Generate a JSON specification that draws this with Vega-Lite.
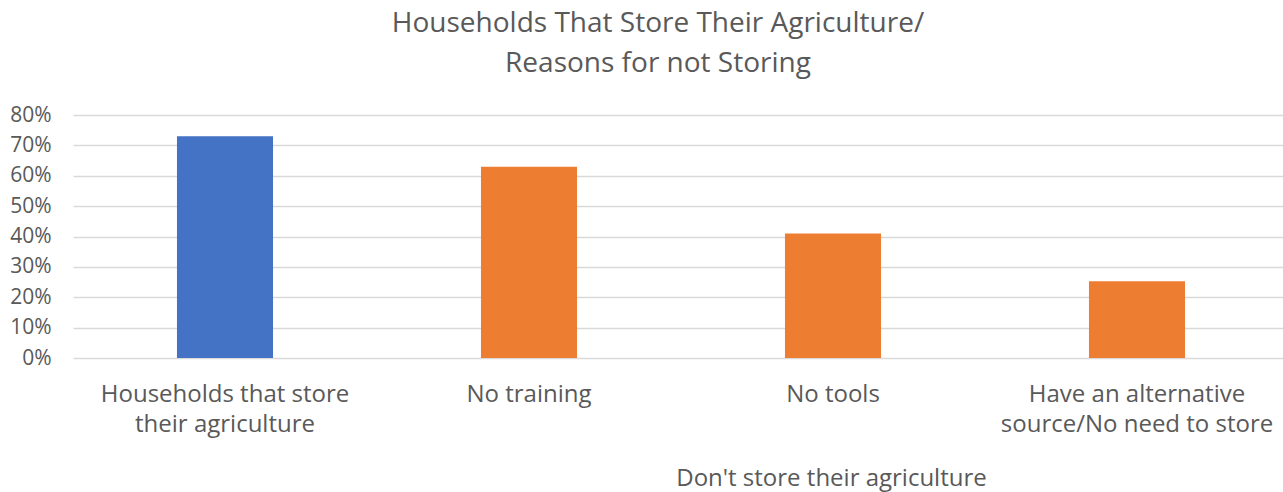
{
  "$schema": "https://vega.github.io/schema/vega-lite/v6.json",
  "width": 1208,
  "height": 243,
  "autosize": {"type": "none"},
  "padding": {"left": 73, "top": 115, "right": 2, "bottom": 134},
  "background": "white",
  "title": {
    "text": ["Households That Store Their Agriculture/", "Reasons for not Storing"],
    "font": "Open Sans",
    "fontSize": 28,
    "fontWeight": "normal",
    "color": "#595959",
    "lineHeight": 40,
    "anchor": "middle",
    "dx": -19,
    "offset": 26
  },
  "data": {
    "values": [
      {"category": "Households that store their agriculture", "label": "Households that store|their agriculture", "group": "Store", "share": 0.73},
      {"category": "No training", "label": "No training", "group": "Don't store", "share": 0.63},
      {"category": "No tools", "label": "No tools", "group": "Don't store", "share": 0.41},
      {"category": "Have an alternative source/No need to store", "label": "Have an alternative|source/No need to store", "group": "Don't store", "share": 0.253}
    ]
  },
  "mark": {"type": "bar"},
  "encoding": {
    "x": {
      "field": "label",
      "type": "nominal",
      "sort": null,
      "scale": {"paddingInner": 0.684, "paddingOuter": 0.342, "range": [0, 1216]},
      "axis": {
        "title": "Don't store their agriculture",
        "titleX": 758,
        "titleY": 120,
        "titleBaseline": "middle",
        "titleFont": "Open Sans",
        "titleFontSize": 24,
        "titleFontWeight": "normal",
        "titleColor": "#595959",
        "labelExpr": "split(datum.value, '|')",
        "labelAngle": 0,
        "labelFont": "Open Sans",
        "labelFontSize": 24,
        "labelColor": "#595959",
        "labelLineHeight": 30,
        "labelPadding": 36,
        "labelBaseline": "middle",
        "labelLimit": 500,
        "ticks": false,
        "domain": false,
        "grid": false
      }
    },
    "y": {
      "field": "share",
      "type": "quantitative",
      "scale": {"domain": [0, 0.8], "nice": false},
      "axis": {
        "title": null,
        "format": ".0%",
        "values": [0, 0.1, 0.2, 0.3, 0.4, 0.5, 0.6, 0.7, 0.8],
        "labelFont": "Open Sans",
        "labelFontSize": 21,
        "labelColor": "#595959",
        "labelPadding": 22,
        "ticks": false,
        "domain": false,
        "grid": true,
        "gridColor": "#d9d9d9",
        "gridWidth": 1.5
      }
    },
    "color": {
      "field": "group",
      "type": "nominal",
      "scale": {"domain": ["Store", "Don't store"], "range": ["#4472C4", "#ED7D31"]},
      "legend": null
    }
  },
  "config": {"view": {"stroke": null}}
}
